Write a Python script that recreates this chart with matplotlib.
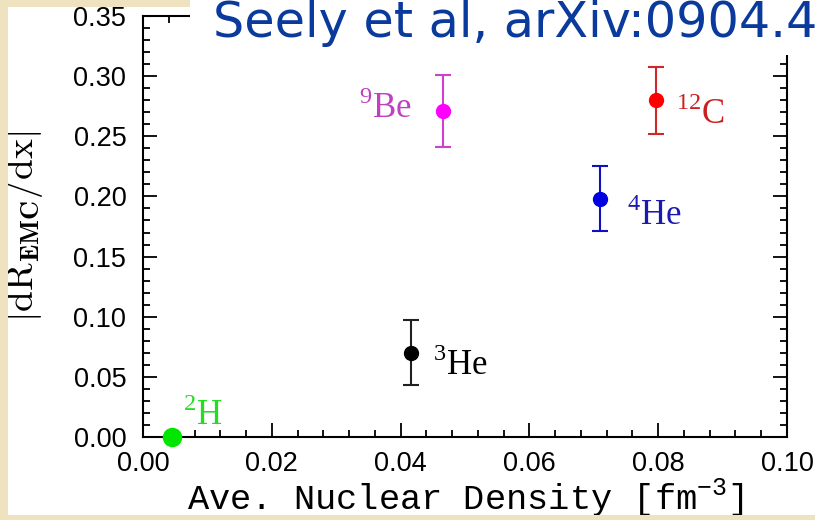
#!/usr/bin/env python3

import matplotlib
matplotlib.use('Agg')
import matplotlib.pyplot as plt
from matplotlib.patches import Rectangle
from matplotlib.ticker import MultipleLocator

# nuclei, average nuclear density [fm^-3], |dR_EMC/dx| and its error
nuclei = ['2H', '3He', '9Be', '4He', '12C']
density = [0.0045, 0.0416, 0.0466, 0.0710, 0.0797]
slope = [0.000, 0.070, 0.271, 0.198, 0.280]
slope_err = [0.000, 0.027, 0.030, 0.027, 0.028]
labels = ['$^\\mathregular{2}$H', '$^\\mathregular{3}$He', '$^\\mathregular{9}$Be',
          '$^\\mathregular{4}$He', '$^\\mathregular{12}$C']

CREAM = '#efe2bf'


def main():
    fig = plt.figure(figsize=(8.15, 5.2), dpi=100, facecolor='white')

    # slide background strips
    fig.patches.append(Rectangle((0, 0), 8 / 815, 1, transform=fig.transFigure,
                                 facecolor=CREAM, edgecolor='none', zorder=0))
    fig.patches.append(Rectangle((0, 1 - 7 / 520), 190 / 815, 7 / 520, transform=fig.transFigure,
                                 facecolor=CREAM, edgecolor='none', zorder=0))

    ax = fig.add_axes([143 / 815, 1 - 437 / 520, 644 / 815, 421 / 520])
    ax.set_facecolor('white')

    marker_cols = ['#00e600', 'black', '#ff00ff', '#0000e0', '#ff0000']
    bar_cols = ['#00e600', '#202020', '#d040d0', '#1010c0', '#d02828']
    sizes = [13, 10, 10, 10, 10]
    for x, y, e, mc, bc, ms in zip(density, slope, slope_err, marker_cols, bar_cols, sizes):
        ax.errorbar(x, y, yerr=e if e > 0 else None, fmt='o', color=mc, ecolor=bc,
                    markersize=ms, elinewidth=1.5, capsize=6, capthick=1.5,
                    clip_on=False, zorder=5)

    # isotope labels
    txt_kw = dict(family='Liberation Serif', fontsize=25, va='baseline')
    ax.text(0.0062, 0.010, labels[0], color='#22dd22', ha='left', **txt_kw)
    ax.text(0.0450, 0.0514, labels[1], color='black', ha='left', **txt_kw)
    ax.text(0.0418, 0.2653, labels[2], color='#c040c0', ha='right', **txt_kw)
    ax.text(0.0752, 0.1766, labels[3], color='#1a1ab0', ha='left', **txt_kw)
    ax.text(0.0828, 0.2604, labels[4], color='#cc2020', ha='left', **txt_kw)

    ax.set_xlim(0, 0.1)
    ax.set_ylim(0, 0.35)
    ax.xaxis.set_major_locator(MultipleLocator(0.02))
    ax.xaxis.set_minor_locator(MultipleLocator(0.004))
    ax.yaxis.set_major_locator(MultipleLocator(0.05))
    ax.yaxis.set_minor_locator(MultipleLocator(0.01))
    ax.xaxis.set_major_formatter(plt.FormatStrFormatter('%.2f'))
    ax.yaxis.set_major_formatter(plt.FormatStrFormatter('%.2f'))
    ax.tick_params(which='both', direction='in', top=True, right=True, width=1.3)
    ax.tick_params(which='major', length=10, pad=12, labelsize=19.5)
    ax.tick_params(axis='x', which='major', pad=10)
    ax.tick_params(which='minor', length=5)
    for lab in ax.get_xticklabels() + ax.get_yticklabels():
        lab.set_family('Liberation Sans')
    for sp in ax.spines.values():
        sp.set_linewidth(1.5)

    ax.set_xlabel('Ave. Nuclear Density [fm$^\\mathregular{-3}$]', family='Liberation Mono',
                  fontsize=25.5)
    ax.xaxis.set_label_coords(0.5, -0.093)
    ax.set_ylabel(r'$|\mathrm{dR}_{\mathbf{EMC}}/\mathrm{dx}|$', math_fontfamily='cm',
                  fontsize=27)
    ax.yaxis.set_label_coords(-0.152, 0.50)

    # bottom slide strip
    fig.patches.append(Rectangle((0, 0), 1, 5 / 520, transform=fig.transFigure,
                                 facecolor=CREAM, edgecolor='none', zorder=10))

    # title box over the top of the plot
    fig.patches.append(Rectangle((190 / 815, 1 - 55 / 520), 1, 55 / 520, transform=fig.transFigure,
                                 facecolor='white', edgecolor='none', zorder=10))
    fig.text(213 / 815, 1 - 37 / 520, 'Seely et al, arXiv:0904.4448', color='#0a3a9c',
             fontsize=35.5, family='DejaVu Sans', ha='left', va='baseline', zorder=11)

    fig.savefig('out.png', dpi=100)


if __name__ == '__main__':
    main()
